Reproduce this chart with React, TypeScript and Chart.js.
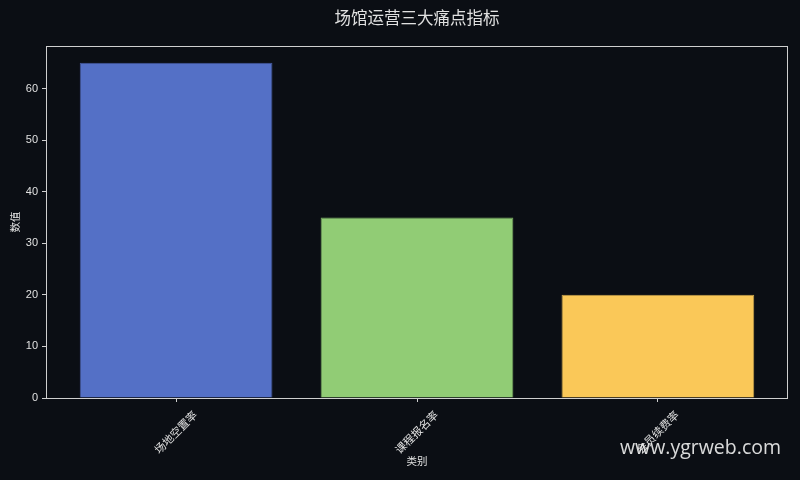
import React, { useEffect, useRef } from "react";
import { Chart, registerables } from "chart.js";

Chart.register(...registerables);

const categories = ["场地空置率", "课程报名率", "会员续费率"];
const values = [65, 35, 20];
const barColors = ["#5470c6", "#91cc75", "#fac858"];
const barEdges = ["#46599e", "#79ab61", "#c9a34a"];
const yTicks = [0, 10, 20, 30, 40, 50, 60];
const titleText = "场馆运营三大痛点指标";
const xTitle = "类别";
const yTitle = "数值";
const watermark = "www.ygrweb.com";

const BG = "#0b0e14";
const FG = "#e0e0e0";
const FONT = "'Noto Sans CJK SC', 'DejaVu Sans', sans-serif";

export default function App() {
  const ref = useRef<HTMLCanvasElement | null>(null);

  useEffect(() => {
    document.body.style.margin = "0";
    document.body.style.background = BG;
    const canvas = ref.current;
    if (!canvas) return;

    const decor = {
      id: "decor",
      beforeDraw(chart: any) {
        const { ctx } = chart;
        ctx.save();
        ctx.fillStyle = BG;
        ctx.fillRect(0, 0, chart.width, chart.height);
        ctx.restore();
      },
      afterDraw(chart: any) {
        const { ctx, chartArea } = chart;
        const { left, right, top, bottom } = chartArea;
        ctx.save();
        // frame
        ctx.strokeStyle = "#cfcfcf";
        ctx.lineWidth = 1;
        ctx.strokeRect(Math.round(left) + 0.5, Math.round(top) + 0.5, Math.round(right - left) - 1, Math.round(bottom - top));
        // title
        ctx.fillStyle = FG;
        ctx.textAlign = "center";
        ctx.textBaseline = "middle";
        ctx.font = `16.5px ${FONT}`;
        ctx.fillText(titleText, (left + right) / 2, 18);
        // x title
        ctx.font = `10.5px ${FONT}`;
        ctx.fillText(xTitle, (left + right) / 2, 461);
        // y title
        ctx.save();
        ctx.translate(15, (top + bottom) / 2);
        ctx.rotate(-Math.PI / 2);
        ctx.fillText(yTitle, 0, 0);
        ctx.restore();
        // watermark
        ctx.font = `19.5px 'Open Sans', 'DejaVu Sans', sans-serif`;
        ctx.fillStyle = "rgba(235,235,235,0.92)";
        ctx.textAlign = "right";
        ctx.fillText(watermark, 781, 448);
        ctx.restore();
      },
    };

    const chart = new Chart(canvas, {
      type: "bar",
      data: {
        datasets: [
          {
            data: values.map((v, i) => ({ x: i, y: v })),
            backgroundColor: barColors,
            borderColor: barEdges,
            borderWidth: 1,
            barPercentage: 0.8,
            categoryPercentage: 1,
          },
        ],
      },
      options: {
        animation: false,
        responsive: false,
        devicePixelRatio: 1,
        layout: { padding: { left: 0, right: 12, top: 46, bottom: 0 } },
        plugins: {
          legend: { display: false },
          title: { display: false },
          tooltip: { enabled: false },
        },
        scales: {
          x: {
            type: "linear",
            min: -0.54,
            max: 2.54,
            offset: false,
            afterBuildTicks: (scale: any) => {
              scale.ticks = categories.map((_, i) => ({ value: i }));
            },
            afterFit: (scale: any) => {
              scale.height = 82;
            },
            border: { display: false },
            grid: {
              display: true,
              offset: false,
              drawOnChartArea: false,
              drawTicks: true,
              tickLength: 4,
              color: "#cfcfcf",
            },
            ticks: {
              autoSkip: false,
              minRotation: 45,
              maxRotation: 45,
              labelOffset: 19,
              padding: 6,
              color: FG,
              font: { size: 11, family: FONT },
              callback: (v: any) => categories[v as number] ?? "",
            },
          },
          y: {
            min: 0,
            max: 68.25,
            afterBuildTicks: (scale: any) => {
              scale.ticks = yTicks.map((v) => ({ value: v }));
            },
            afterFit: (scale: any) => {
              scale.width = 46;
            },
            border: { display: false },
            grid: {
              display: true,
              drawOnChartArea: false,
              drawTicks: true,
              tickLength: 4,
              color: "#cfcfcf",
            },
            ticks: {
              padding: 4,
              color: FG,
              font: { size: 11, family: "'Liberation Sans', Arial, sans-serif" },
            },
          },
        },
      },
      plugins: [decor],
    });

    return () => chart.destroy();
  }, []);

  return (
    <div style={{ position: "fixed", left: 0, top: 0, width: 800, height: 480, background: BG }}>
      <canvas ref={ref} width={800} height={480} style={{ width: 800, height: 480, display: "block" }} />
    </div>
  );
}
